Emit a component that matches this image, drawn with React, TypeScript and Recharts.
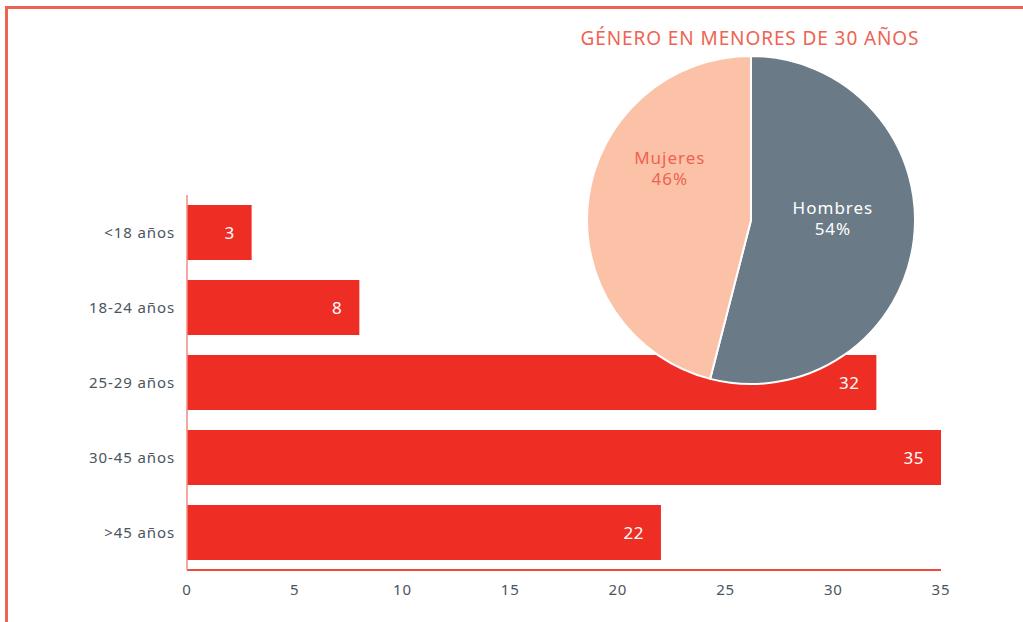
import React from "react";
import { BarChart, Bar, XAxis, YAxis, LabelList, PieChart, Pie, Cell } from "recharts";

const categories = ["<18 años", "18-24 años", "25-29 años", "30-45 años", ">45 años"];
const values = [3, 8, 32, 35, 22];
const xTicks = [0, 5, 10, 15, 20, 25, 30, 35];

const genderNames = ["Hombres", "Mujeres"];
const genderValues = [54, 46];
const genderColors = ["#6A7B87", "#FBC2A8"];
const genderLabelColors = ["#FFFFFF", "#EE6352"];
const pieTitle = "GÉNERO EN MENORES DE 30 AÑOS";

const barData = categories.map((c, i) => ({ name: c, value: values[i] }));
const pieData = genderNames.map((n, i) => ({ name: n, value: genderValues[i] }));

const FONT = "'Noto Sans', sans-serif";
const RAD = Math.PI / 180;
// label placement relative to the pie (angle in degrees, radius fraction)
const labelAngle = [2, 147];
const labelRadius = [0.5, 0.59];

const renderPieLabel = (props: any) => {
  const { cx, cy, outerRadius, index, name, value } = props;
  const r = outerRadius * labelRadius[index];
  const a = labelAngle[index] * RAD;
  const x = cx + r * Math.cos(a);
  const y = cy - r * Math.sin(a);
  return (
    <text
      x={x}
      y={y}
      textAnchor="middle"
      fill={genderLabelColors[index]}
      fontSize={17}
      letterSpacing={1}
      fontFamily={FONT}
    >
      <tspan x={x} dy="-0.2em">{name}</tspan>
      <tspan x={x} dy="1.25em">{value}%</tspan>
    </text>
  );
};

export default function App() {
  return (
    <div style={{ position: "absolute", left: 0, top: 0, width: 1023, height: 622, background: "#fff", fontFamily: FONT }}>
      <div
        style={{
          position: "absolute",
          left: 5,
          top: 6,
          width: 1030,
          height: 640,
          borderLeft: "3px solid #EE6352",
          borderTop: "3px solid #EE6352",
        }}
      />
      <div style={{ position: "absolute", left: 0, top: 0 }}>
        <BarChart
          width={1023}
          height={622}
          data={barData}
          layout="vertical"
          margin={{ top: 195, right: 82, bottom: 0, left: 0 }}
          barCategoryGap={10}
        >
          <XAxis
            type="number"
            domain={[0, 35]}
            ticks={xTicks}
            height={52}
            tickLine={false}
            tickMargin={8}
            axisLine={{ stroke: "#EE4B3E", strokeWidth: 2 }}
            tick={{ fill: "#4A5560", fontSize: 15, fontFamily: FONT, letterSpacing: 0.8 }}
          />
          <YAxis
            type="category"
            dataKey="name"
            width={187}
            tickLine={false}
            tickMargin={6}
            axisLine={{ stroke: "#F28B80", strokeWidth: 1.5 }}
            tick={{ fill: "#4A5560", fontSize: 15, fontFamily: FONT, letterSpacing: 0.9 }}
          />
          <Bar dataKey="value" fill="#EE2E24" isAnimationActive={false}>
            <LabelList
              dataKey="value"
              position="insideRight"
              offset={17}
              fill="#FFFFFF"
              fontSize={17}
              fontFamily={FONT}
              letterSpacing={0.5}
            />
          </Bar>
        </BarChart>
      </div>
      <div style={{ position: "absolute", left: 0, top: 0 }}>
        <PieChart width={1023} height={622} margin={{ top: 0, right: 0, bottom: 0, left: 0 }}>
          <Pie
            data={pieData}
            dataKey="value"
            nameKey="name"
            cx={751}
            cy={220}
            outerRadius={164}
            startAngle={90}
            endAngle={-270}
            stroke="#FFFFFF"
            strokeWidth={2}
            label={renderPieLabel}
            labelLine={false}
            isAnimationActive={false}
          >
            {pieData.map((d, i) => (
              <Cell key={d.name} fill={genderColors[i]} />
            ))}
          </Pie>
        </PieChart>
      </div>
      <div
        style={{
          position: "absolute",
          left: 500,
          width: 500,
          top: 25,
          textAlign: "center",
          color: "#EE6352",
          fontSize: 19,
          letterSpacing: 0.9,
          lineHeight: "26px",
          fontFamily: FONT,
        }}
      >
        {pieTitle}
      </div>
    </div>
  );
}
